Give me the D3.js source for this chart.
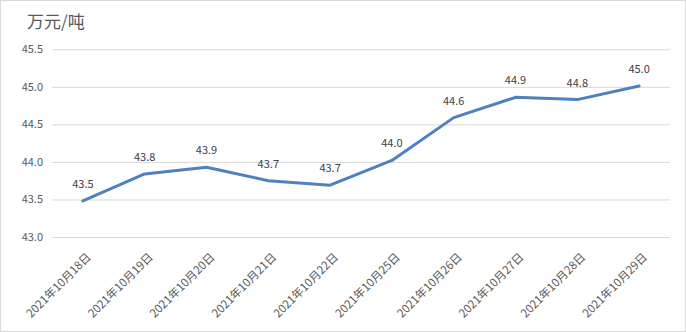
<!DOCTYPE html>
<html><head><meta charset="utf-8">
<script src="https://cdn.jsdelivr.net/npm/d3@7"></script>
<style>html,body{margin:0;padding:0;background:#fff;}svg{display:block;}</style>
</head><body>
<script>
const categories = ["2021年10月18日","2021年10月19日","2021年10月20日","2021年10月21日","2021年10月22日","2021年10月25日","2021年10月26日","2021年10月27日","2021年10月28日","2021年10月29日"];
const values = [43.48, 43.84, 43.93, 43.75, 43.69, 44.02, 44.59, 44.86, 44.83, 45.01];
const valueLabels = ["43.5","43.8","43.9","43.7","43.7","44.0","44.6","44.9","44.8","45.0"];
const yTicks = [43.0, 43.5, 44.0, 44.5, 45.0, 45.5];
const unitTitle = "万元/吨";

const W = 686, H = 332;
const font = "'Microsoft YaHei','Noto Sans CJK SC',sans-serif";
const svg = d3.select("body").append("svg").attr("width", W).attr("height", H);
svg.append("rect").attr("x",0.5).attr("y",0.5).attr("width",W-1).attr("height",H-1)
  .attr("fill","#fff").attr("stroke","#d9d9d9");

const x = d3.scaleBand().domain(categories).range([52, 670]);
const y = d3.scaleLinear().domain([43, 45.5]).range([237, 49.3]);

// gridlines + y labels
const yAxis = d3.axisLeft(y).tickValues(yTicks).tickFormat(d3.format(".1f"))
  .tickSize(-(670-52)).tickPadding(9);
const gy = svg.append("g").attr("transform","translate(52,0)").call(yAxis);
gy.select(".domain").remove();
gy.selectAll(".tick line").attr("stroke","#d9d9d9").attr("stroke-width",1);
gy.selectAll(".tick text").attr("fill","#595959").style("font-family",font).style("font-size","11px");

// x labels
const gx = svg.append("g").attr("transform","translate(0,237)");
gx.selectAll("text").data(categories).join("text")
  .attr("transform", d => `translate(${x(d)+x.bandwidth()/2+6},${18}) rotate(-45)`)
  .attr("text-anchor","end").attr("dy","0.35em")
  .attr("fill","#595959").style("font-family",font).style("font-size","11.5px")
  .text(d => d);

// line
const line = d3.line().x((d,i) => x(categories[i]) + x.bandwidth()/2).y(d => y(d));
svg.append("path").datum(values).attr("d", line)
  .attr("fill","none").attr("stroke","#4f81bd").attr("stroke-width",3)
  .attr("stroke-linejoin","round").attr("stroke-linecap","round");

// data labels
svg.append("g").selectAll("text").data(values).join("text")
  .attr("x",(d,i) => x(categories[i]) + x.bandwidth()/2)
  .attr("y", d => y(d) - 13)
  .attr("text-anchor","middle").attr("fill","#404040")
  .style("font-family",font).style("font-size","11px")
  .text((d,i) => valueLabels[i]);

// title
svg.append("text").attr("x",27).attr("y",28).attr("fill","#595959")
  .style("font-family",font).style("font-size","17px").text(unitTitle);
</script>
</body></html>
